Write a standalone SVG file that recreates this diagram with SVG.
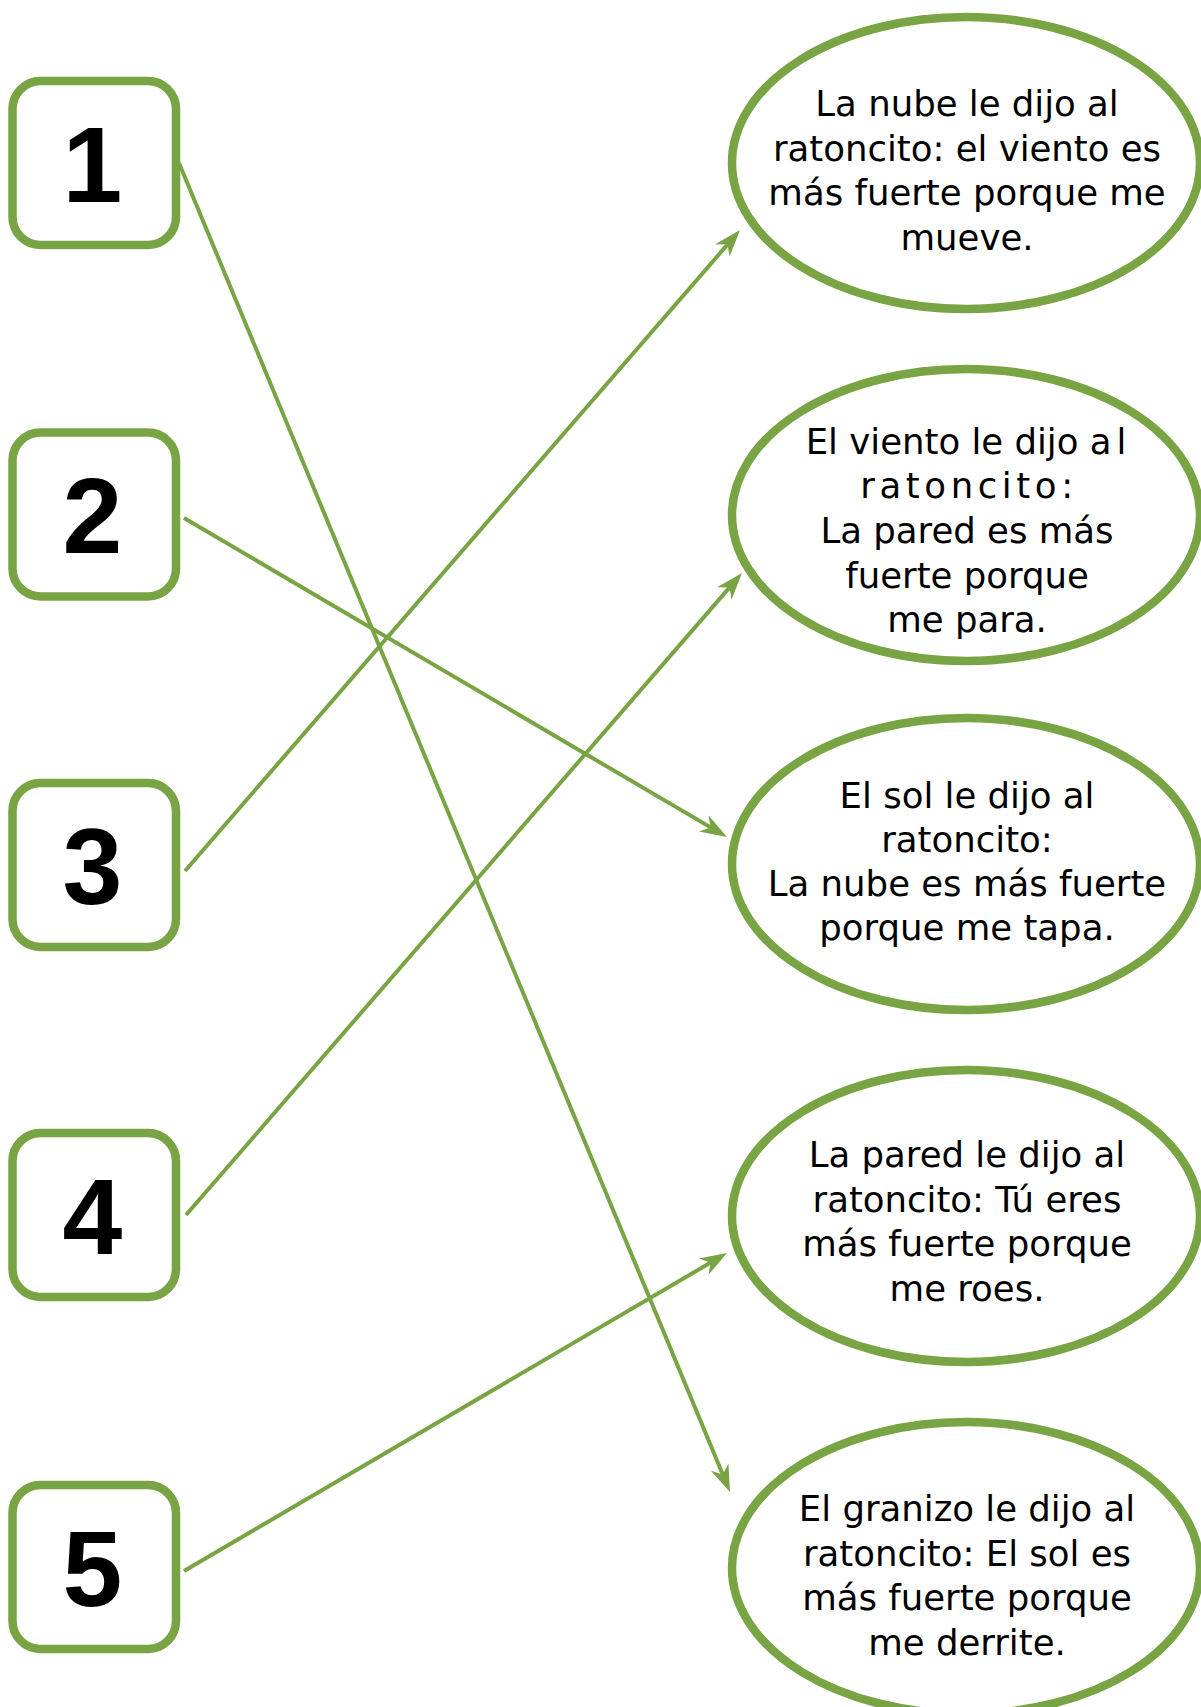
<svg xmlns="http://www.w3.org/2000/svg" width="1201" height="1707" viewBox="0 0 1201 1707">
<style>
.box{fill:#fff;stroke:#78A443;stroke-width:8.5}
.ell{fill:#fff;stroke:#78A443;stroke-width:8.5}
.num{font-family:"Liberation Sans",Arial,sans-serif;font-weight:bold;font-size:107.5px;text-anchor:middle;fill:#000}
.t{font-family:"DejaVu Sans","Liberation Sans",sans-serif;font-size:35.5px;text-anchor:middle;fill:#000}
.c{stroke:#78A443;stroke-width:4;fill:none;marker-end:url(#arr)}
</style>
<defs>
<marker id="arr" markerUnits="userSpaceOnUse" markerWidth="60" markerHeight="60" refX="0" refY="0" orient="auto" overflow="visible">
<path d="M17,0 L-10,-9.5 L-2,0 L-10,9.5 Z" fill="#78A443"/>
</marker>
</defs>
<rect width="1201" height="1707" fill="#fff"/>
<g id="box1"><rect class="box" x="12.5" y="81" width="163.5" height="164" rx="28"/><text class="num" x="92.5" y="201.7">1</text></g>
<g id="box2"><rect class="box" x="12.5" y="432.5" width="163.5" height="164" rx="28"/><text class="num" x="92.5" y="553">2</text></g>
<g id="box3"><rect class="box" x="12.5" y="783" width="163.5" height="164" rx="28"/><text class="num" x="92.5" y="903.7">3</text></g>
<g id="box4"><rect class="box" x="12.5" y="1133" width="163.5" height="164" rx="28"/><text class="num" x="92.5" y="1253.7">4</text></g>
<g id="box5"><rect class="box" x="12.5" y="1485" width="163.5" height="164" rx="28"/><text class="num" x="92.5" y="1605.7">5</text></g>
<g id="ell1"><ellipse class="ell" cx="966" cy="163" rx="234" ry="146"/>
<text class="t" x="967" y="116">La nube le dijo al</text>
<text class="t" x="967" y="160.5">ratoncito: el viento es</text>
<text class="t" x="967" y="205">más fuerte porque me</text>
<text class="t" x="967" y="249.5">mueve.</text></g>
<g id="ell2"><ellipse class="ell" cx="966" cy="515" rx="234" ry="146"/>
<text class="t" x="966" y="453.5">El viento le dijo a<tspan dx="5">l</tspan></text>
<text class="t" x="969" y="498" letter-spacing="4.6">ratoncito:</text>
<text class="t" x="967" y="542.5">La pared es más</text>
<text class="t" x="967" y="587.5">fuerte porque</text>
<text class="t" x="967" y="632">me para.</text></g>
<g id="ell3"><ellipse class="ell" cx="966" cy="864" rx="234" ry="146"/>
<text class="t" x="967" y="807.5">El sol le dijo al</text>
<text class="t" x="967" y="851.5">ratoncito:</text>
<text class="t" x="967" y="895.5">La nube es más fuerte</text>
<text class="t" x="967" y="939.5">porque me tapa.</text></g>
<g id="ell4"><ellipse class="ell" cx="966" cy="1216" rx="234" ry="146"/>
<text class="t" x="967" y="1167">La pared le dijo al</text>
<text class="t" x="967" y="1211.5">ratoncito: Tú eres</text>
<text class="t" x="967" y="1256">más fuerte porque</text>
<text class="t" x="967" y="1300.5">me roes.</text></g>
<g id="ell5"><ellipse class="ell" cx="966" cy="1568" rx="234" ry="146"/>
<text class="t" x="967" y="1521">El granizo le dijo al</text>
<text class="t" x="967" y="1565.5">ratoncito: El sol es</text>
<text class="t" x="967" y="1610">más fuerte porque</text>
<text class="t" x="967" y="1654.5">me derrite.</text></g>
<g id="connectors">
<line class="c" x1="179" y1="163" x2="723.5" y2="1476.3"/>
<line class="c" x1="184" y1="518" x2="712.3" y2="828.4"/>
<line class="c" x1="185" y1="871" x2="728.9" y2="242.9"/>
<line class="c" x1="186" y1="1215" x2="730.9" y2="585.9"/>
<line class="c" x1="184" y1="1571" x2="712.3" y2="1261.6"/>
</g>
</svg>
